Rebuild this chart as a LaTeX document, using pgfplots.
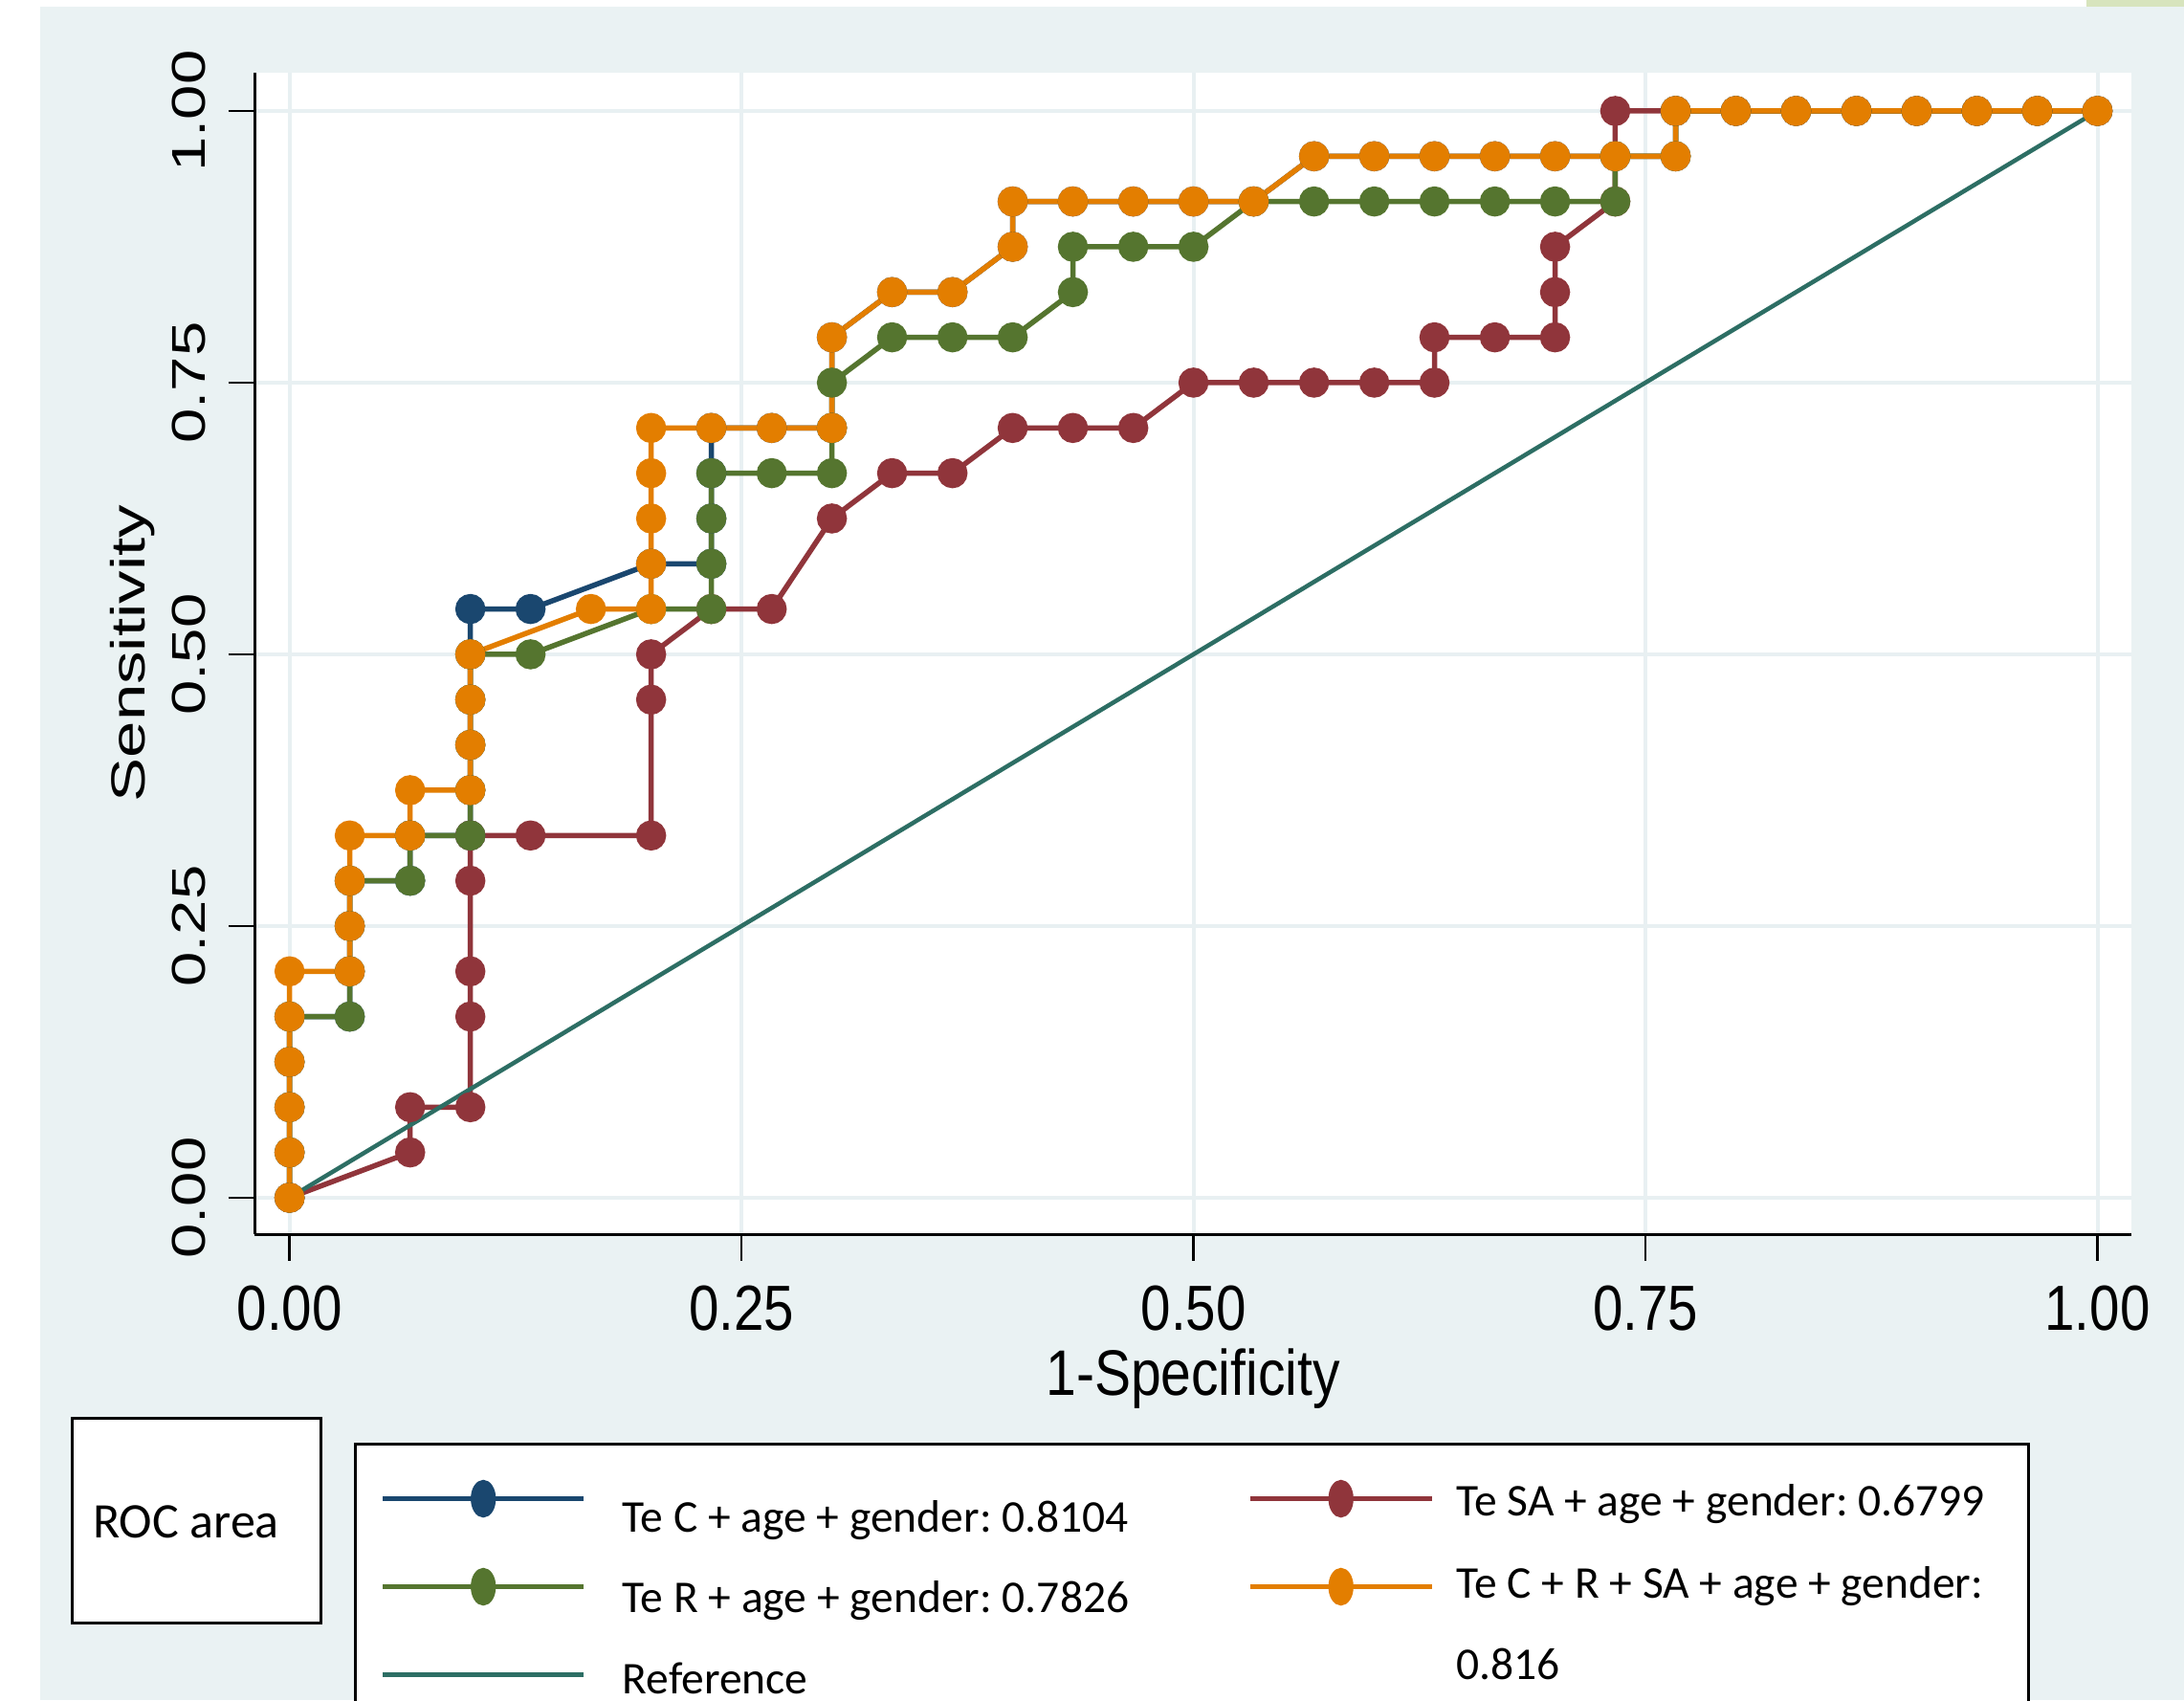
\documentclass[border=0pt]{standalone}
\usepackage{fontspec}
\setmainfont{Liberation Sans}
\newfontfamily\calibri{Carlito}
\usepackage{graphicx}
\usepackage{pgfplots}
\pgfplotsset{compat=1.18}
\frenchspacing

\definecolor{bgc}{RGB}{234,242,243}
\definecolor{gridc}{RGB}{232,240,242}
\definecolor{topgreen}{RGB}{215,228,189}
\definecolor{navyc}{RGB}{26,71,111}
\definecolor{maroonc}{RGB}{144,53,59}
\definecolor{greenc}{RGB}{85,117,47}
\definecolor{orangec}{RGB}{227,126,0}
\definecolor{refc}{RGB}{45,110,100}

\newcommand{\xt}[1]{\scalebox{1}[1.18]{#1}}
\newcommand{\yt}[1]{\scalebox{1.32}[1]{#1}}

\pgfplotsset{
  longimg/.style={legend image code/.code={%
    \draw[mark repeat=2,mark phase=2,##1,every mark/.append style={xscale=0.8,yscale=1.3}]
      plot coordinates {(0pt,0pt) (21pt,0pt) (42pt,0pt)};}},
  shortimg/.style={legend image code/.code={%
    \draw[mark repeat=2,mark phase=2,##1,every mark/.append style={xscale=0.8,yscale=1.3}]
      plot coordinates {(0pt,0pt) (19pt,0pt) (38pt,0pt)};}},
  refimg/.style={legend image code/.code={%
    \draw[##1, line width=1.1pt] (0pt,0pt) -- (42pt,0pt);}},
  roc/.style={line width=1.1pt, mark=*, mark size=2.6pt, mark options={solid, draw=none}},
}

\begin{document}
\begin{tikzpicture}
% page and Stata graph region
\fill[white] (0,0) rectangle (456.6pt,355.4pt);
\fill[bgc] (8.34pt,0) rectangle (456.6pt,353.9pt);
\fill[topgreen] (436.2pt,353.9pt) rectangle (456.6pt,355.4pt);

\begin{axis}[
  at={(53.2pt,97.4pt)}, anchor=south west,
  scale only axis, width=392.4pt, height=242.8pt,
  xmin=-0.0194, xmax=1.0188, ymin=-0.0335, ymax=1.0352,
  axis x line*=bottom, axis y line*=left,
  axis line style={-, black, line width=0.6pt},
  axis background/.style={fill=white},
  xtick={0,0.25,0.5,0.75,1}, ytick={0,0.25,0.5,0.75,1},
  xticklabels={\xt{0.00},\xt{0.25},\xt{0.50},\xt{0.75},\xt{1.00}},
  yticklabels={\yt{0.00},\yt{0.25},\yt{0.50},\yt{0.75},\yt{1.00}},
  tick align=outside, major tick length=5.5pt,
  tick style={black, line width=0.5pt},
  xticklabel style={anchor=north, inner xsep=0pt, inner ysep=5pt, font=\fontsize{11.3}{13}\selectfont},
  yticklabel style={rotate=90, anchor=south, inner xsep=0pt, inner ysep=4.6pt, font=\fontsize{9.9}{12}\selectfont},
  grid=major, major grid style={gridc, line width=0.8pt},
  xlabel={\scalebox{1}[1.18]{1-Specificity}},
  xlabel style={at={(axis description cs:0.5,0)}, anchor=base, yshift=-33.6pt, font=\fontsize{11.4}{13}\selectfont},
  ylabel={\scalebox{1.38}[1]{Sensitivity}},
  ylabel style={at={(axis description cs:-0.0584,0.5)}, anchor=base, font=\fontsize{10}{12}\selectfont},
  legend columns=2,
  legend style={at={(axis description cs:0.0530,-0.1796)}, anchor=north west,
    draw=black, line width=0.6pt, fill=white,
    inner xsep=5.2pt, inner ysep=2.2pt, column sep=0pt, row sep=0pt,
    cells={anchor=west}, nodes={inner sep=0pt, text height=9.2pt, text depth=9.2pt},
    font=\calibri\fontsize{9.5}{11}\selectfont},
]

% Te C + age + gender
\addplot[roc, navyc, longimg] coordinates {
(0,0) (0,0.0417) (0,0.0833) (0,0.125) (0,0.1667) (0.0333,0.1667) (0.0333,0.2083)
(0.0333,0.25) (0.0333,0.2917) (0.0667,0.2917) (0.0667,0.3333) (0.1,0.3333) (0.1,0.375)
(0.1,0.4167) (0.1,0.4583) (0.1,0.5) (0.1,0.5417) (0.1333,0.5417) (0.2,0.5833)
(0.2333,0.5833) (0.2333,0.625) (0.2333,0.6667) (0.2333,0.7083) (0.2667,0.7083)
(0.3,0.7083) (0.3,0.7917) (0.3333,0.8333) (0.3667,0.8333) (0.4,0.875) (0.4,0.9167)
(0.4333,0.9167) (0.4667,0.9167) (0.5,0.9167) (0.5333,0.9167) (0.5667,0.9583)
(0.6,0.9583) (0.6333,0.9583) (0.6667,0.9583) (0.7,0.9583) (0.7333,0.9583)
(0.7667,0.9583) (0.7667,1) (0.8,1) (0.8333,1) (0.8667,1) (0.9,1) (0.9333,1) (0.9667,1) (1,1)};
\addlegendentry{\raisebox{-7pt}{\makebox[138.2pt][l]{\hspace{7.6pt}Te C + age + gender: 0.8104}}}

% Te SA + age + gender
\addplot[roc, maroonc, shortimg] coordinates {
(0,0) (0.0667,0.0417) (0.0667,0.0833) (0.1,0.0833) (0.1,0.1667) (0.1,0.2083)
(0.1,0.2917) (0.1,0.3333) (0.1333,0.3333) (0.2,0.3333) (0.2,0.4583) (0.2,0.5)
(0.2333,0.5417) (0.2667,0.5417) (0.3,0.625) (0.3333,0.6667) (0.3667,0.6667)
(0.4,0.7083) (0.4333,0.7083) (0.4667,0.7083) (0.5,0.75) (0.5333,0.75) (0.5667,0.75)
(0.6,0.75) (0.6333,0.75) (0.6333,0.7917) (0.6667,0.7917) (0.7,0.7917) (0.7,0.8333)
(0.7,0.875) (0.7333,0.9167) (0.7333,1) (0.7667,1) (0.8,1) (0.8333,1) (0.8667,1)
(0.9,1) (0.9333,1) (0.9667,1) (1,1)};
\addlegendentry{\raisebox{-3.6pt}{\makebox[118.9pt][l]{\hspace{4.6pt}Te SA + age + gender: 0.6799}}}

% Te R + age + gender
\addplot[roc, greenc, longimg] coordinates {
(0,0) (0,0.0417) (0,0.0833) (0,0.125) (0,0.1667) (0.0333,0.1667) (0.0333,0.2083)
(0.0333,0.25) (0.0333,0.2917) (0.0667,0.2917) (0.0667,0.3333) (0.1,0.3333) (0.1,0.375)
(0.1,0.4167) (0.1,0.4583) (0.1,0.5) (0.1333,0.5) (0.2,0.5417) (0.2333,0.5417)
(0.2333,0.5833) (0.2333,0.625) (0.2333,0.6667) (0.2667,0.6667) (0.3,0.6667)
(0.3,0.7083) (0.3,0.75) (0.3333,0.7917) (0.3667,0.7917) (0.4,0.7917) (0.4333,0.8333)
(0.4333,0.875) (0.4667,0.875) (0.5,0.875) (0.5333,0.9167) (0.5667,0.9167)
(0.6,0.9167) (0.6333,0.9167) (0.6667,0.9167) (0.7,0.9167) (0.7333,0.9167)
(0.7333,0.9583) (0.7667,0.9583) (0.7667,1) (0.8,1) (0.8333,1) (0.8667,1) (0.9,1)
(0.9333,1) (0.9667,1) (1,1)};
\addlegendentry{\raisebox{-5.4pt}{\makebox[138.2pt][l]{\hspace{7.6pt}Te R + age + gender: 0.7826}}}

% Te C + R + SA + age + gender
\addplot[roc, orangec, shortimg] coordinates {
(0,0) (0,0.0417) (0,0.0833) (0,0.125) (0,0.1667) (0,0.2083) (0.0333,0.2083)
(0.0333,0.25) (0.0333,0.2917) (0.0333,0.3333) (0.0667,0.3333) (0.0667,0.375)
(0.1,0.375) (0.1,0.4167) (0.1,0.4583) (0.1,0.5) (0.1667,0.5417) (0.2,0.5417)
(0.2,0.5833) (0.2,0.625) (0.2,0.6667) (0.2,0.7083) (0.2333,0.7083) (0.2667,0.7083)
(0.3,0.7083) (0.3,0.7917) (0.3333,0.8333) (0.3667,0.8333) (0.4,0.875) (0.4,0.9167)
(0.4333,0.9167) (0.4667,0.9167) (0.5,0.9167) (0.5333,0.9167) (0.5667,0.9583)
(0.6,0.9583) (0.6333,0.9583) (0.6667,0.9583) (0.7,0.9583) (0.7333,0.9583)
(0.7667,0.9583) (0.7667,1) (0.8,1) (0.8333,1) (0.8667,1) (0.9,1) (0.9333,1) (0.9667,1) (1,1)};
\addlegendentry{\raisebox{-2.3pt}{\makebox[118.9pt][l]{\hspace{4.6pt}\vtop{\baselineskip=17.1pt\hbox{Te C + R + SA + age + gender:}\hbox{0.816}}}}}

% Reference
\addplot[refc, line width=0.9pt, refimg] coordinates {(0,0) (1,1)};
\addlegendentry{\raisebox{-4pt}{\makebox[138.2pt][l]{\hspace{7.6pt}Reference}}}
\end{axis}

% ROC area box
\draw[black, line width=0.6pt, fill=white] (15pt,16.2pt) rectangle (67pt,58.8pt);
\node[anchor=base west, inner sep=0pt, font=\calibri\fontsize{10.4}{12}\selectfont] at (19.2pt,34pt) {ROC area};

\pgfresetboundingbox
\path[use as bounding box] (0,0) rectangle (456.6pt,355.4pt);
\end{tikzpicture}
\end{document}
